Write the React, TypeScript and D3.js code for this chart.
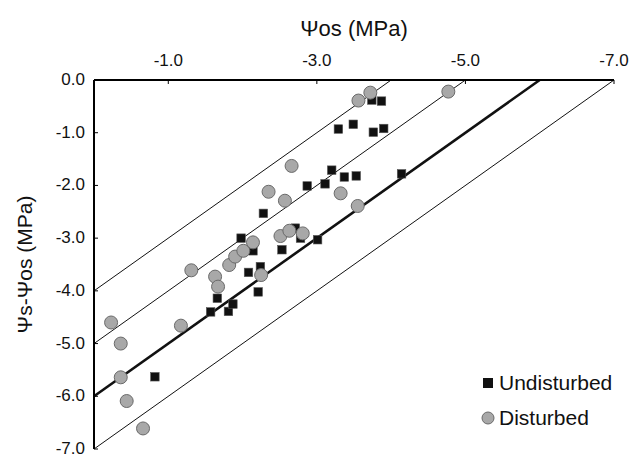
import React from "react";
import * as d3 from "d3";

// Ψos on the x axis, Ψs-Ψos on the y axis (both in MPa)
const undisturbedX = [
  -0.82, -1.57, -1.81, -1.87, -1.66, -2.21, -2.08, -2.24, -2.14, -1.98, -2.53, -2.78, -3.01, -2.71,
  -2.28, -2.87, -3.11, -3.2, -3.37, -3.53, -4.14, -3.29, -3.49, -3.76, -3.9, -3.74, -3.87,
];
const undisturbedY = [
  -5.63, -4.4, -4.39, -4.25, -4.14, -4.02, -3.65, -3.54, -3.24, -3.0, -3.22, -3.0, -3.03, -2.81,
  -2.53, -2.01, -1.97, -1.71, -1.84, -1.82, -1.78, -0.93, -0.84, -0.99, -0.92, -0.38, -0.4,
];
const disturbedX = [
  -0.23, -0.36, -0.36, -0.44, -0.66, -1.17, -1.31, -1.63, -1.67, -1.82, -1.9, -2.01, -2.14, -2.25,
  -2.35, -2.57, -2.66, -2.51, -2.63, -2.81, -3.32, -3.55, -3.56, -3.72, -4.77,
];
const disturbedY = [
  -4.6, -5.0, -5.64, -6.09, -6.61, -4.66, -3.61, -3.73, -3.92, -3.51, -3.35, -3.24, -3.08, -3.7,
  -2.12, -2.29, -1.63, -2.96, -2.86, -2.91, -2.15, -2.39, -0.39, -0.24, -0.22,
];
// reference lines: Ψs = constant (Ψs-Ψos = c - Ψos)
const refLevels = [-4, -5, -6, -7];
const thickLevel = -6;
const xTicks = [-1, -3, -5, -7];
const yTicks = [0, -1, -2, -3, -4, -5, -6, -7];
const legendLabels = ["Undisturbed", "Disturbed"];

const font = "'Liberation Sans', Arial, sans-serif";

export default function App() {
  const width = 641;
  const height = 457;
  const x = d3.scaleLinear().domain([0, -7]).range([94, 614]);
  const y = d3.scaleLinear().domain([0, -7]).range([80, 449]);

  const line = d3
    .line<[number, number]>()
    .x((d) => x(d[0]))
    .y((d) => y(d[1]));

  const undisturbed = undisturbedX.map((v, i) => [v, undisturbedY[i]]);
  const disturbed = disturbedX.map((v, i) => [v, disturbedY[i]]);
  const sq = 8.5;

  return (
    <svg
      width={width}
      height={height}
      style={{ position: "absolute", left: 0, top: 0, background: "#fff" }}
      fontFamily={font}
    >
      {refLevels.map((c) => (
        <path
          key={c}
          d={line([
            [0, c],
            [c, 0],
          ]) as string}
          fill="none"
          stroke="#111"
          strokeWidth={c === thickLevel ? 2.6 : 1}
        />
      ))}

      {undisturbed.map((d, i) => (
        <rect
          key={"u" + i}
          x={x(d[0]) - sq / 2}
          y={y(d[1]) - sq / 2}
          width={sq}
          height={sq}
          fill="#111"
          stroke="#555"
          strokeWidth={0.6}
        />
      ))}
      {disturbed.map((d, i) => (
        <circle
          key={"d" + i}
          cx={x(d[0])}
          cy={y(d[1])}
          r={6.5}
          fill="#a8a8a8"
          stroke="#6a6a6a"
          strokeWidth={1}
        />
      ))}

      {/* axes */}
      <line x1={x(0)} x2={x(-7)} y1={y(0)} y2={y(0)} stroke="#000" strokeWidth={2} />
      <line x1={x(0)} x2={x(0)} y1={y(0)} y2={y(-7)} stroke="#000" strokeWidth={2} />
      {xTicks.map((t) => (
        <g key={t}>
          <line x1={x(t)} x2={x(t)} y1={y(0)} y2={y(0) + 4} stroke="#000" strokeWidth={1} />
          <text x={x(t)} y={66} textAnchor="middle" fontSize={17} fill="#111">
            {t.toFixed(1)}
          </text>
        </g>
      ))}
      {yTicks.map((t) => (
        <g key={t}>
          <line x1={x(0)} x2={x(0) + 4} y1={y(t)} y2={y(t)} stroke="#000" strokeWidth={1} />
          <text
            x={85}
            y={y(t) - 1}
            dy="0.35em"
            textAnchor="end"
            fontSize={17}
            fill="#111"
          >
            {t.toFixed(1)}
          </text>
        </g>
      ))}

      <text x={354} y={36} textAnchor="middle" fontSize={22} fill="#111">
        Ψos (MPa)
      </text>
      <text
        transform={`translate(32,${(y(0) + y(-7)) / 2}) rotate(-90)`}
        textAnchor="middle"
        fontSize={21}
        fill="#111"
      >
        Ψs-Ψos (MPa)
      </text>

      {/* legend */}
      <rect x={483} y={378} width={10} height={10} fill="#111" />
      <text x={499} y={383} dy="0.35em" fontSize={21} fill="#111">
        {legendLabels[0]}
      </text>
      <circle cx={488} cy={418} r={6} fill="#a8a8a8" stroke="#6a6a6a" strokeWidth={1} />
      <text x={499} y={418} dy="0.35em" fontSize={21} fill="#111">
        {legendLabels[1]}
      </text>
    </svg>
  );
}
